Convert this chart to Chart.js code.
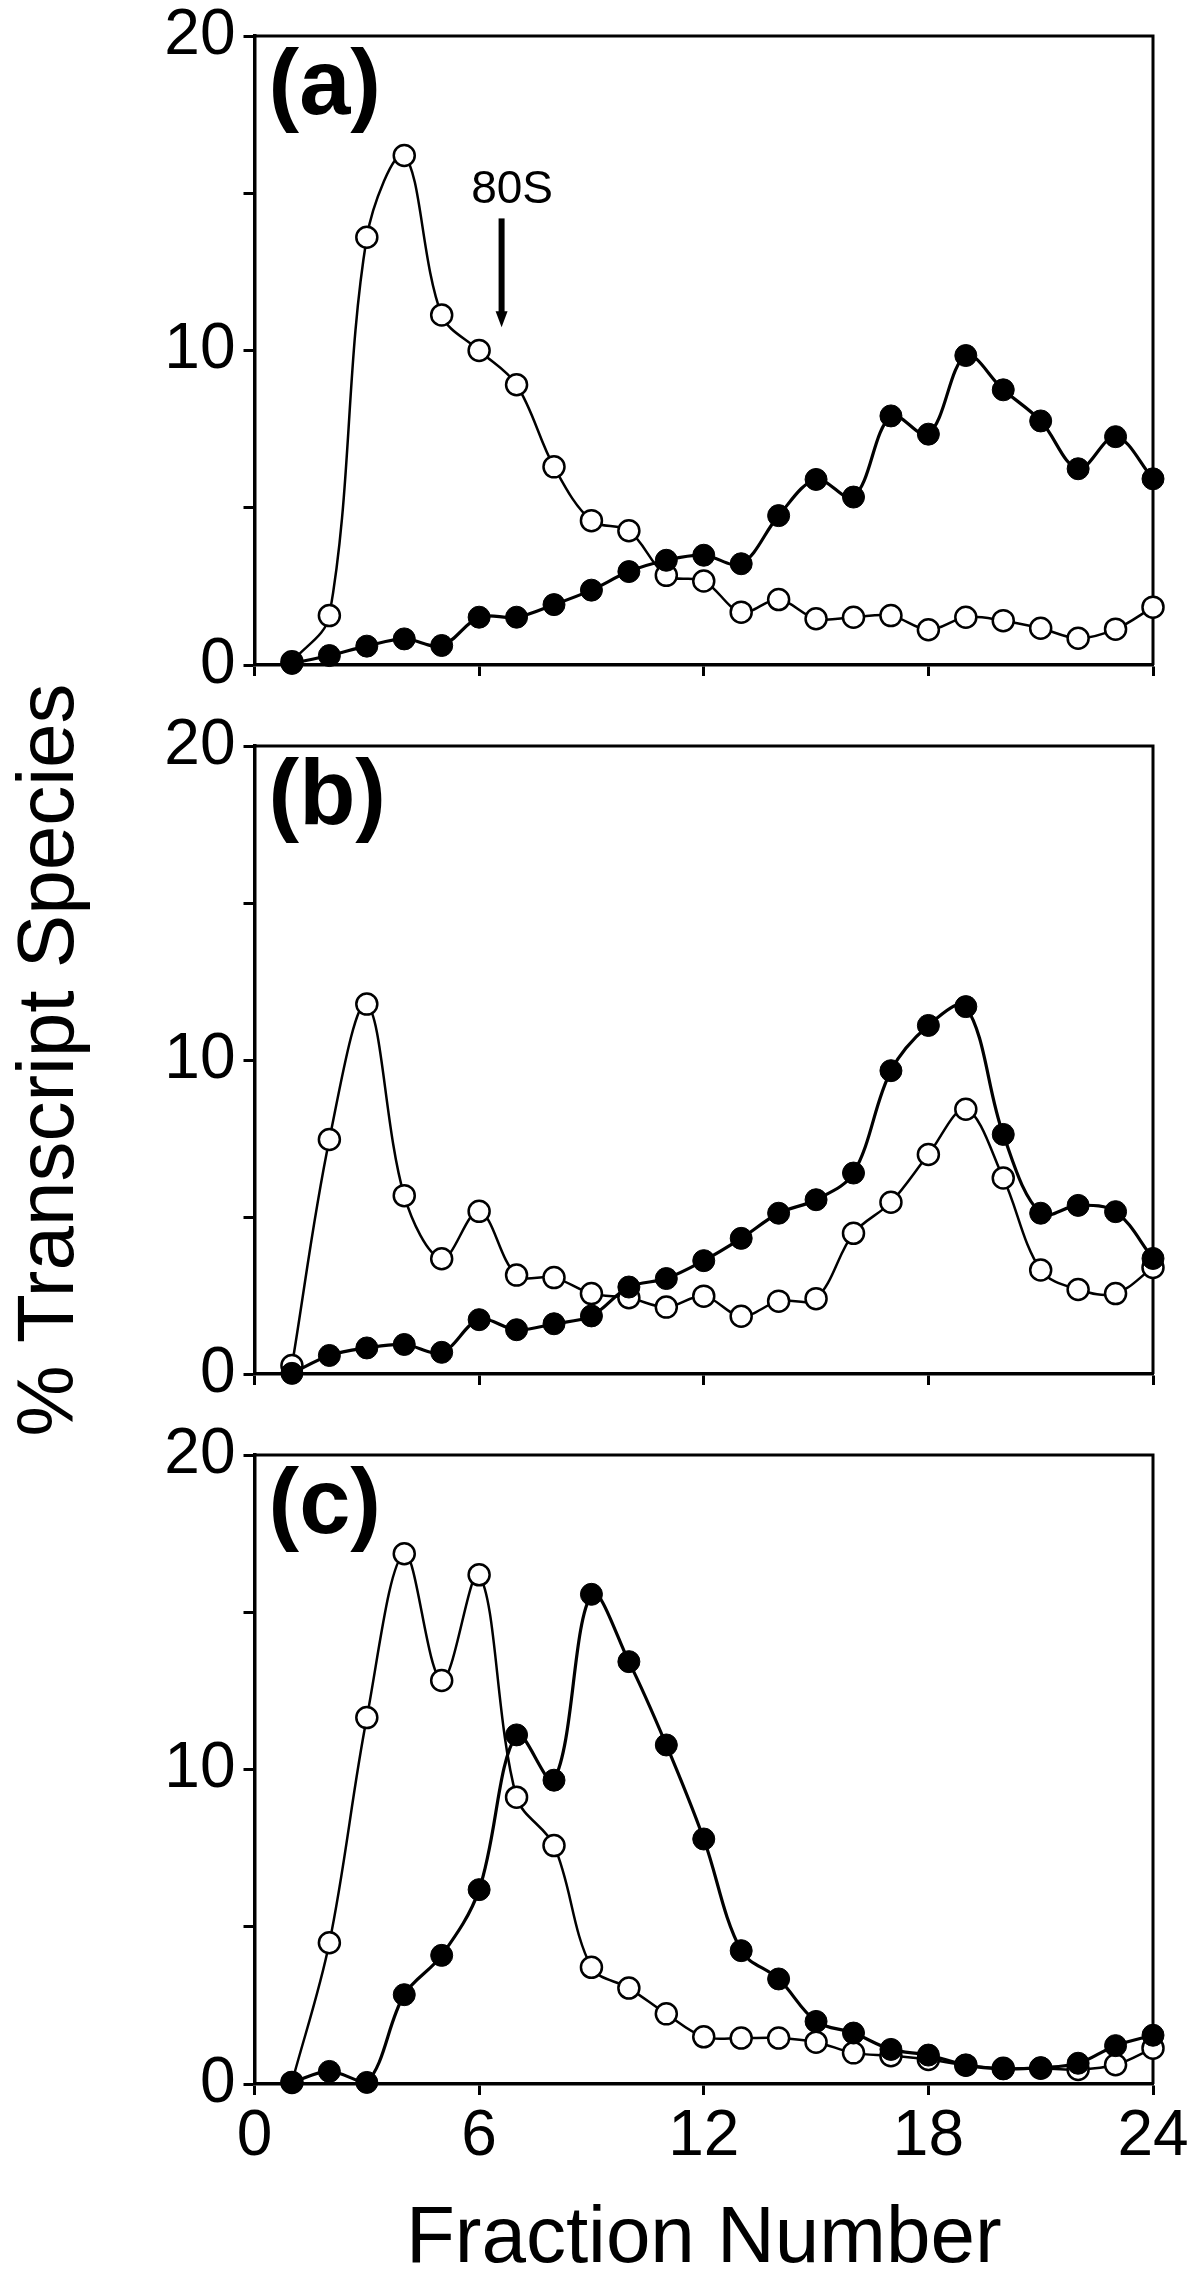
<!DOCTYPE html>
<html><head><meta charset="utf-8">
<script src="https://cdn.jsdelivr.net/npm/chart.js@4.4.1/dist/chart.umd.min.js"></script>
<style>
html,body{margin:0;padding:0;background:#fff;}
#wrap{position:relative;width:1200px;height:2288px;background:#fff;overflow:hidden;}
canvas{position:absolute;left:0;}
</style></head><body>
<div id="wrap">
<canvas id="ca"></canvas><canvas id="cb"></canvas><canvas id="cc"></canvas>
</div>
<script>
// ---- data ----
const fractions = [1,2,3,4,5,6,7,8,9,10,11,12,13,14,15,16,17,18,19,20,21,22,23,24];
const aFilled = [0.05,0.3,0.6,0.83,0.62,1.52,1.52,1.92,2.38,2.97,3.33,3.49,3.22,4.75,5.9,5.34,7.92,7.34,9.84,8.75,7.76,6.24,7.26,5.92];
const aOpen   = [0.1,1.57,13.6,16.2,11.13,10.0,8.91,6.3,4.59,4.27,2.85,2.67,1.68,2.08,1.47,1.52,1.57,1.12,1.52,1.41,1.17,0.85,1.14,1.84];
const bFilled = [0.02,0.59,0.83,0.94,0.69,1.73,1.41,1.6,1.85,2.77,3.04,3.61,4.32,5.12,5.55,6.4,9.66,11.1,11.7,7.63,5.12,5.37,5.17,3.68];
const bOpen   = [0.27,7.47,11.78,5.68,3.67,5.18,3.15,3.07,2.56,2.43,2.13,2.48,1.84,2.32,2.4,4.48,5.47,6.99,8.43,6.24,3.31,2.69,2.56,3.39];
const cFilled = [0.05,0.4,0.05,2.84,4.09,6.18,11.1,9.66,15.57,13.43,10.78,7.79,4.24,3.34,1.99,1.62,1.1,0.92,0.6,0.48,0.52,0.66,1.22,1.55];
const cOpen   = [0.05,4.49,11.65,16.86,12.83,16.19,9.12,7.58,3.71,3.05,2.23,1.5,1.46,1.46,1.33,0.99,0.9,0.78,0.6,0.5,0.5,0.46,0.61,1.14];
const panelLabels = ['(a)','(b)','(c)'];
const xTickLabels = ['0','6','12','18','24'];
const yTickLabels = ['0','10','20'];
const xTitle = 'Fraction Number';
const yTitle = '% Transcript Species';
// 80S marker (data units in panel a)
const marker80S = {text:'80S', labelX:6.88, labelY:14.7, arrowX:6.6, arrowTop:14.2, arrowTip:10.74};

Chart.defaults.font.family = '"Liberation Sans", Arial, Helvetica, sans-serif';
Chart.defaults.color = '#000';

const BLACK = '#000';

const decorPlugin = {
  id: 'decor',
  beforeDatasetsDraw(chart) {
    const {ctx, chartArea:a} = chart;
    ctx.save();
    ctx.strokeStyle = BLACK; ctx.lineWidth = 3;
    ctx.beginPath();
    ctx.moveTo(a.left, a.top); ctx.lineTo(a.right, a.top); ctx.lineTo(a.right, a.bottom);
    ctx.stroke();
    ctx.restore();
  },
  afterDatasetsDraw(chart) {
    const o = chart.options.plugins.decor || {};
    const {ctx, chartArea:a} = chart;
    ctx.save();
    ctx.fillStyle = BLACK;
    if (o.label) {
      ctx.font = 'bold 92px "Liberation Sans", Arial, sans-serif';
      ctx.textAlign = 'left'; ctx.textBaseline = 'alphabetic';
      ctx.fillText(o.label, a.left + 14, a.top + 78);
    }
    if (o.marker) {
      const m = o.marker, xs = chart.scales.x, ys = chart.scales.y;
      ctx.font = '46px "Liberation Sans", Arial, sans-serif';
      ctx.textAlign = 'center'; ctx.textBaseline = 'alphabetic';
      ctx.fillText(m.text, xs.getPixelForValue(m.labelX), ys.getPixelForValue(m.labelY));
      const ax = xs.getPixelForValue(m.arrowX);
      const y0 = ys.getPixelForValue(m.arrowTop), y1 = ys.getPixelForValue(m.arrowTip);
      ctx.strokeStyle = BLACK; ctx.lineWidth = 6;
      ctx.beginPath(); ctx.moveTo(ax, y0); ctx.lineTo(ax, y1 - 14); ctx.stroke();
      ctx.beginPath(); ctx.moveTo(ax - 6, y1 - 16); ctx.lineTo(ax + 6, y1 - 16); ctx.lineTo(ax, y1); ctx.closePath(); ctx.fill();
    }
    ctx.restore();
  }
};

function pts(arr){ return fractions.map((x,i)=>({x:x, y:arr[i]})); }

// canvasTop/canvasHeight: canvas box; plotTop/plotBottom: page y of the 20 and 0 lines
function makeChart(id, canvasTop, canvasHeight, plotTop, plotBottom, filled, open, cfg) {
  const cv = document.getElementById(id);
  cv.width = 1200; cv.height = canvasHeight; cv.style.top = canvasTop + 'px';
  cv.style.width = '1200px'; cv.style.height = canvasHeight + 'px';
  const padTop = plotTop - canvasTop;
  const xAxisH = canvasTop + canvasHeight - plotBottom;
  return new Chart(cv, {
    type: 'line',
    data: { datasets: [
      { data: pts(filled), borderColor: BLACK, borderWidth: 3.2, tension: 0.35,
        pointRadius: 11, pointBackgroundColor: BLACK, pointBorderColor: BLACK, pointBorderWidth: 1, clip: false },
      { data: pts(open), borderColor: BLACK, borderWidth: 2.5, tension: 0.35,
        pointRadius: 10.5, pointBackgroundColor: '#fff', pointBorderColor: BLACK, pointBorderWidth: 2.5, clip: false }
    ]},
    options: {
      responsive: false, animation: false, devicePixelRatio: 1,
      layout: { autoPadding: false, padding: { left: 0, top: padTop, right: 47, bottom: 0 } },
      plugins: { legend: { display: false }, tooltip: { enabled: false },
                 decor: { label: cfg.label, marker: cfg.marker } },
      scales: {
        x: { type: 'linear', min: 0, max: 24,
             ticks: { stepSize: 6, display: cfg.showX, padding: 10,
                      font: { size: 64, lineHeight: 1 }, color: BLACK,
                      callback: (v) => { const s = String(v); return xTickLabels.includes(s) ? s : ''; } },
             grid: { drawOnChartArea: false, drawTicks: true, tickLength: 11, tickWidth: 3, tickColor: BLACK },
             border: { display: true, color: BLACK, width: 3.5 },
             title: { display: cfg.showX, text: xTitle, color: BLACK, font: { size: 80, lineHeight: 1.2 }, padding: { top: 0, bottom: 0 } },
             afterFit: (s) => { s.height = xAxisH; s.paddingLeft = 0; s.paddingRight = 0; } },
        y: { min: 0, max: 20,
             ticks: { stepSize: 5, padding: 8, font: { size: 64, lineHeight: 1 }, color: BLACK,
                      callback: (v) => { const s = String(v); return yTickLabels.includes(s) ? s : ''; } },
             grid: { drawOnChartArea: false, drawTicks: true, tickLength: 11, tickWidth: 3, tickColor: BLACK },
             border: { display: true, color: BLACK, width: 3.5 },
             title: { display: cfg.showY, text: yTitle, color: BLACK, font: { size: 80, lineHeight: 1.2 }, padding: { top: 3, bottom: 0 } },
             afterFit: (s) => { s.width = 254.5; s.paddingTop = 0; s.paddingBottom = 0; } }
      }
    },
    plugins: [decorPlugin]
  });
}

makeChart('ca', 0, 700, 36, 665, aFilled, aOpen, { label: panelLabels[0], marker: marker80S, showX: false, showY: false });
makeChart('cb', 560, 1000, 746, 1374, bFilled, bOpen, { label: panelLabels[1], showX: false, showY: true });
makeChart('cc', 1419, 869, 1455, 2084, cFilled, cOpen, { label: panelLabels[2], showX: true, showY: false });
</script>
</body></html>
